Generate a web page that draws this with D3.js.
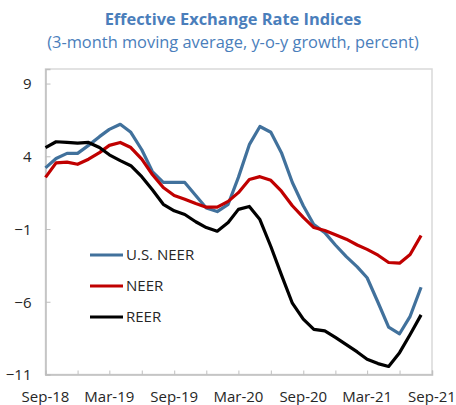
<!DOCTYPE html>
<meta http-equiv="content-type" content="text/html; charset=utf-8">
<style>
body { margin:0; background:#fff; }
svg text { font-family:"Open Sans", sans-serif; }
.title { font-weight:bold; font-size:16.4px; fill:#4a7ebb; }
.subtitle { font-size:16.4px; fill:#4a7ebb; }
.tick text { font-size:15px; fill:#262626; }
.legend text { font-size:15px; fill:#262626; }
</style>
<body>
<div id="chart"></div>
<script src="https://cdn.jsdelivr.net/npm/d3@7/dist/d3.min.js"></script>
<script>
// monthly observations, Sep-18 .. Aug-21
var startMonth = "2018-09";
var usNeer = [3.2, 3.85, 4.2, 4.2, 4.75, 5.35, 5.85, 6.2, 5.65, 4.45, 2.95,
  2.2, 2.2, 2.2, 1.3, 0.45, 0.2, 0.7, 2.55, 4.8, 6.05, 5.65, 4.25, 2.2,
  0.6, -0.7, -1.25, -2.1, -2.9, -3.6, -4.35, -6.05, -7.75, -8.2, -7.0, -5.0];
var neer = [2.55, 3.55, 3.6, 3.45, 3.8, 4.25, 4.75, 4.95, 4.6, 3.8, 2.75,
  1.85, 1.3, 1.05, 0.75, 0.5, 0.5, 0.9, 1.5, 2.4, 2.6, 2.35, 1.6, 0.6,
  -0.2, -0.9, -1.1, -1.4, -1.7, -2.1, -2.4, -2.8, -3.3, -3.35, -2.75, -1.45];
var reer = [4.6, 5.0, 4.95, 4.9, 4.95, 4.6, 4.1, 3.7, 3.35, 2.6, 1.7,
  0.7, 0.25, 0.0, -0.5, -0.9, -1.15, -0.55, 0.35, 0.55, -0.35, -2.2, -4.15, -6.1,
  -7.2, -7.9, -8.0, -8.45, -8.95, -9.45, -9.95, -10.25, -10.45, -9.5, -8.25, -6.9];
var seriesNames = ["U.S. NEER", "NEER", "REER"];
var seriesColors = ["#41719c", "#c00000", "#000000"];
var yTicks = [9, 4, -1, -6, -11];
var xLabels = ["Sep-18", "Mar-19", "Sep-19", "Mar-20", "Sep-20", "Mar-21", "Sep-21"];

var width = 456, height = 405;
var margin = {top: 69, right: 24, bottom: 30.5, left: 45.5};

var svg = d3.select("#chart").append("svg")
    .attr("width", width)
    .attr("height", height);

svg.append("text").attr("class", "title")
    .attr("x", 233).attr("y", 25).attr("text-anchor", "middle")
    .text("Effective Exchange Rate Indices");
svg.append("text").attr("class", "subtitle")
    .attr("x", 233).attr("y", 48).attr("text-anchor", "middle")
    .text("(3-month moving average, y-o-y growth, percent)");

var parseMonth = d3.timeParse("%Y-%m");
var t0 = parseMonth(startMonth);
var months = usNeer.map(function(d, i) { return d3.timeMonth.offset(t0, i); });
var tEnd = d3.timeMonth.offset(t0, 36);

var x = d3.scaleTime()
    .domain([t0, tEnd])
    .range([margin.left, width - margin.right]);
var y = d3.scaleLinear()
    .domain([-11, 10])
    .range([height - margin.bottom, margin.top]);

// plot frame
svg.append("rect")
    .attr("x", margin.left).attr("y", margin.top)
    .attr("width", width - margin.right - margin.left)
    .attr("height", height - margin.bottom - margin.top)
    .attr("fill", "none").attr("stroke", "#d9d9d9").attr("stroke-width", 1.5);

var yAxis = svg.append("g")
    .attr("transform", "translate(" + margin.left + ",0)")
    .call(d3.axisRight(y).tickValues(yTicks).tickSize(5).tickFormat(d3.format("d")));
yAxis.select(".domain").attr("stroke", "#bfbfbf").attr("stroke-width", 1.5);
yAxis.selectAll(".tick line").attr("stroke", "#bfbfbf");
yAxis.selectAll(".tick text").attr("x", -14).attr("text-anchor", "end").attr("dy", "0.35em");

var quarterTicks = d3.range(0, 37, 3).map(function(i) { return d3.timeMonth.offset(t0, i); });
var xAxis = svg.append("g")
    .attr("transform", "translate(0," + (height - margin.bottom) + ")")
    .call(d3.axisTop(x).tickValues(quarterTicks).tickSize(4).tickFormat(""));
xAxis.select(".domain").attr("stroke", "#bfbfbf").attr("stroke-width", 1.5);
xAxis.selectAll(".tick line").attr("stroke", "#bfbfbf");

svg.append("g").selectAll("text")
    .data(xLabels)
  .enter().append("text")
    .attr("class", "tick")
    .attr("x", function(d, i) { return x(d3.timeMonth.offset(t0, i * 6)); })
    .attr("y", 402)
    .attr("text-anchor", "middle")
    .style("font-size", "15px").style("fill", "#262626")
    .text(function(d) { return d; });

var line = d3.line()
    .x(function(d, i) { return x(months[i]); })
    .y(function(d) { return y(d); });

var allSeries = [usNeer, neer, reer];
svg.append("g").selectAll("path")
    .data(allSeries)
  .enter().append("path")
    .attr("d", line)
    .attr("fill", "none")
    .attr("stroke", function(d, i) { return seriesColors[i]; })
    .attr("stroke-width", 3.2)
    .attr("stroke-linejoin", "round");

var legend = svg.append("g").attr("class", "legend");
var lg = legend.selectAll("g")
    .data(seriesNames)
  .enter().append("g")
    .attr("transform", function(d, i) { return "translate(90," + (255 + i * 31) + ")"; });
lg.append("line")
    .attr("x1", 0).attr("x2", 33)
    .attr("stroke", function(d, i) { return seriesColors[i]; })
    .attr("stroke-width", 3.2);
lg.append("text")
    .attr("x", 36).attr("dy", "0.35em")
    .text(function(d) { return d; });
</script>
</body>
</html>
